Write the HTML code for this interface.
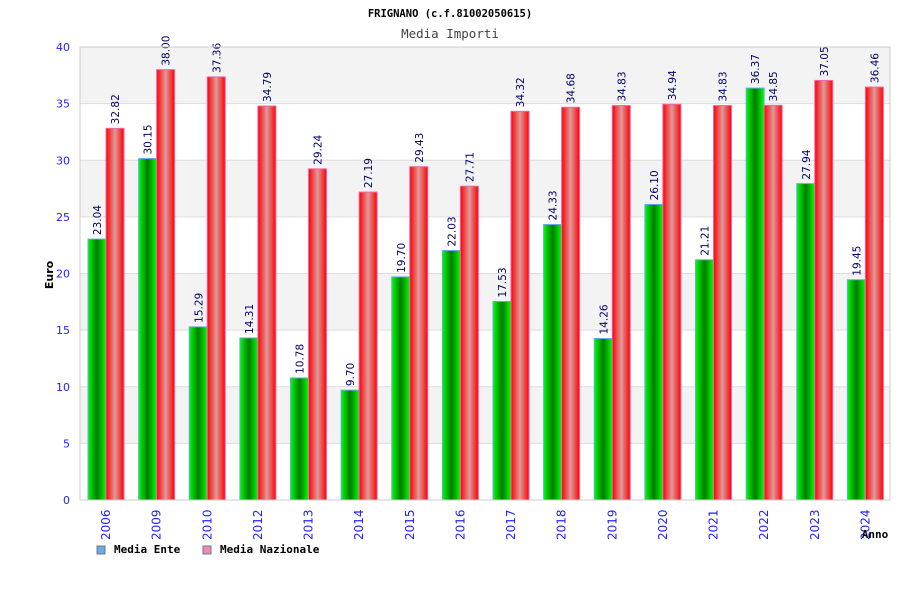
<!DOCTYPE html>
<html><head><meta charset="utf-8"><style>
body{margin:0;background:#fff}
svg text{font-family:"DejaVu Sans Mono","Liberation Mono",monospace}
</style></head><body>
<svg id="chart" width="900" height="600" xmlns="http://www.w3.org/2000/svg">
<defs>
<linearGradient id="gg" x1="0" x2="1" y1="0" y2="0"><stop offset="0" stop-color="#00ff00"/><stop offset="0.5" stop-color="#007a00"/><stop offset="1" stop-color="#00ff00"/></linearGradient>
<linearGradient id="rg" x1="0" x2="1" y1="0" y2="0"><stop offset="0" stop-color="#ff0000"/><stop offset="0.5" stop-color="#dd9a9a"/><stop offset="1" stop-color="#ff0000"/></linearGradient>
</defs>
<text x="450" y="17" text-anchor="middle" font-size="10.5" font-weight="bold" fill="#000">FRIGNANO (c.f.81002050615)</text>
<text x="450" y="38" text-anchor="middle" font-size="12.5" fill="#444">Media Importi</text>
<g id="grid"></g><g id="bars"></g><g id="axes"></g>
<text transform="translate(53,275) rotate(-90)" text-anchor="middle" font-size="11" font-weight="bold" fill="#000" style="font-family:'DejaVu Sans',sans-serif">Euro</text>
<text x="875" y="538" text-anchor="middle" font-size="11" font-weight="bold" fill="#000">Anno</text>
<g>
<rect x="97" y="546" width="8" height="8" fill="#66aaee" stroke="#777"/>
<text x="114" y="553" font-size="11" font-weight="bold">Media Ente</text>
<rect x="203" y="546" width="8" height="8" fill="#ee88bb" stroke="#777"/>
<text x="220" y="553" font-size="11" font-weight="bold">Media Nazionale</text>
</g>
</svg>
<script>
const categories=["2006","2009","2010","2012","2013","2014","2015","2016","2017","2018","2019","2020","2021","2022","2023","2024"];
const enteValues=[23.04,30.15,15.29,14.31,10.78,9.70,19.70,22.03,17.53,24.33,14.26,26.10,21.21,36.37,27.94,19.45];
const nazValues=[32.82,38.00,37.36,34.79,29.24,27.19,29.43,27.71,34.32,34.68,34.83,34.94,34.83,34.85,37.05,36.46];
const yTicks=[0,5,10,15,20,25,30,35,40];
const NS="http://www.w3.org/2000/svg";
const L=80,R=890,T=47,B=500,YMAX=40;
const y=v=>B-(v/YMAX)*(B-T);
const gw=(R-L)/categories.length;
const x=i=>L+i*gw;
function mk(t,a,p){const e=document.createElementNS(NS,t);for(const k in a)e.setAttribute(k,a[k]);p.appendChild(e);return e;}
const grid=document.getElementById('grid'),bars=document.getElementById('bars'),axes=document.getElementById('axes');
for(let i=0;i<yTicks.length-1;i++){
  if(i%2===1){const r=mk('rect',{x:L,y:y(yTicks[i+1]),width:R-L,height:y(yTicks[i])-y(yTicks[i+1]),fill:'#f3f3f3'},grid);
  
  }
}
yTicks.forEach(v=>{
  const l=mk('line',{x1:L,x2:R,y1:y(v),y2:y(v),stroke:'#dddddd'},grid);
  
  
  const t=mk('text',{x:70,y:y(v)+4,'text-anchor':'end','font-size':'11',fill:'#2222ff',style:"font-family:'DejaVu Sans',sans-serif"},axes);
  t.textContent=v;
  
  
});
const fr=mk('rect',{x:L,y:T,width:R-L,height:B-T,fill:'none',stroke:'#cccccc'},axes);


function label(cx,v,col){
  const t=mk('text',{transform:`translate(${cx+4},${y(v)-4}) rotate(-90)`,'font-size':'10.5',fill:col,style:"font-family:'DejaVu Sans',sans-serif"},bars);
  t.textContent=v.toFixed(2);
  
  
}
categories.forEach((c,i)=>{
  const gx=x(i)+8;
  const g=mk('rect',{x:gx,y:y(enteValues[i]),width:18,height:B-y(enteValues[i]),fill:'url(#gg)',stroke:'#66aaee','stroke-width':1},bars);
  
  
  const r=mk('rect',{x:gx+18,y:y(nazValues[i]),width:18,height:B-y(nazValues[i]),fill:'url(#rg)',stroke:'#ee66aa','stroke-width':1},bars);
  
  
  label(gx+9,enteValues[i],'#000066');
  label(gx+27,nazValues[i],'#000066');
  const t=mk('text',{transform:`translate(${gx+22},${540}) rotate(-90)`,'font-size':'12',fill:'#2222ff',style:"font-family:'DejaVu Sans',sans-serif"},axes);
  t.textContent=c;
  
  
});
</script>
</body></html>
